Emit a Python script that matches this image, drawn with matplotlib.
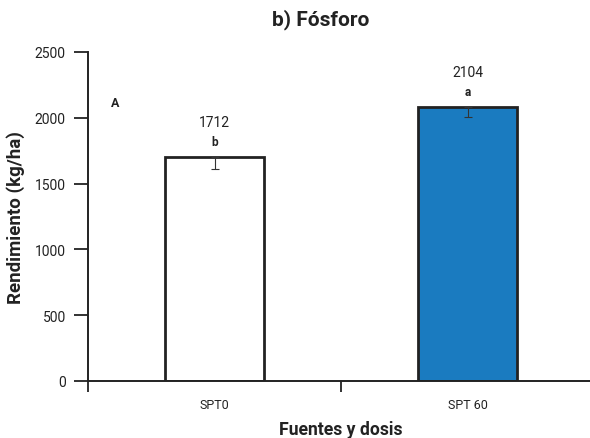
import matplotlib
matplotlib.use("Agg")
import matplotlib.pyplot as plt
import numpy as np

categories = ["SPT0", "SPT 60"]
values = [1702, 2083]
errors_low = [91, 79]
value_labels = ["1712", "2104"]
letters = ["b", "a"]
colors = ["#ffffff", "#1a7bc0"]
yticks = [0, 500, 1000, 1500, 2000, 2500]

plt.rcParams['font.family'] = ['Roboto', 'DejaVu Sans']
ink = "#222222"

fig = plt.figure(figsize=(5.9, 4.39), dpi=100)
ax = fig.add_axes([88/590, 1-382/439, (594-88)/590, (382-53)/439])

x = np.arange(len(categories))
ax.bar(x, values, width=0.395, color=colors, edgecolor=ink, linewidth=2, zorder=2)
ax.errorbar(x, values, yerr=[errors_low, [0, 0]], fmt='none', ecolor="#333333",
            elinewidth=0.8, capsize=3, capthick=0.8, zorder=3)

for xi, v, lab, let in zip(x, values, value_labels, letters):
    ax.text(xi, v + 265, lab, ha='center', va='center', fontsize=10, color=ink)
    ax.text(xi, v + 115, let, ha='center', va='center', fontsize=8.5,
            fontweight='bold', color=ink)

ax.set_xlim(-0.5, 1.5)
ax.set_ylim(0, 2500)
ax.set_yticks(yticks)
ax.set_yticklabels([str(t) for t in yticks], fontsize=10, color=ink)
ax.set_xticks([-0.5, 0.5])
ax.set_xticklabels([])
ax.set_xticks(x, minor=True)
ax.set_xticklabels(categories, minor=True, fontsize=9, color=ink)
ax.tick_params(axis='x', which='major', length=8, width=1.3, color=ink, direction='out')
ax.tick_params(axis='x', which='minor', length=0, pad=12)
ax.tick_params(axis='y', length=10, width=1.3, color=ink, pad=6)

for s in ['top', 'right']:
    ax.spines[s].set_visible(False)
for s in ['left', 'bottom']:
    ax.spines[s].set_linewidth(1.4)
    ax.spines[s].set_color(ink)
ax.spines['bottom'].set_zorder(4)

ax.text(-0.393, 2120, "A", ha='center', va='center', fontsize=9, fontweight='bold', color=ink)

ax.set_xlabel("Fuentes y dosis", fontsize=12.7, fontweight='bold', color=ink, labelpad=7)
ax.set_ylabel("Rendimiento (kg/ha)", fontsize=13.5, fontweight='bold', color=ink, labelpad=7)
fig.text(321/590, 1-20/439, "b) Fósforo", ha='center', va='center', fontsize=15,
         fontweight='bold', color=ink)

fig.savefig("out.png", dpi=100)
